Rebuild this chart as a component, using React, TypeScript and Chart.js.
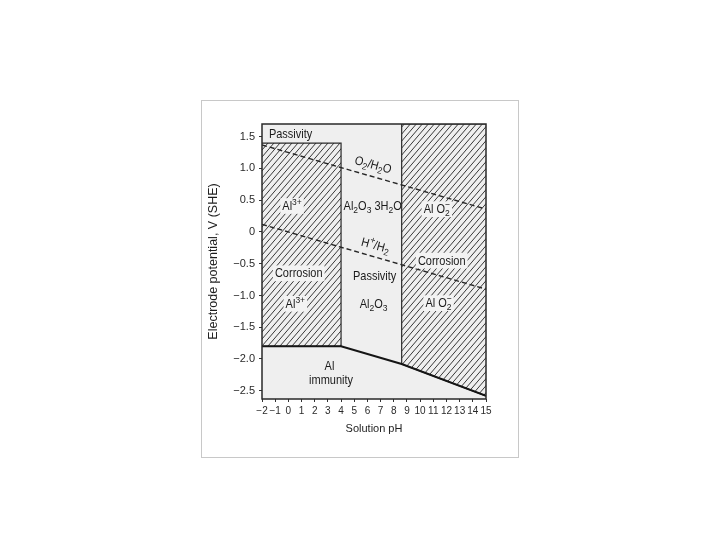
import React, { useEffect, useRef } from "react";
import { Chart, registerables } from "chart.js";

Chart.register(...registerables);

// ---- axes ----
const phTicks = [-2, -1, 0, 1, 2, 3, 4, 5, 6, 7, 8, 9, 10, 11, 12, 13, 14, 15];
const potentialTicks = [1.5, 1.0, 0.5, 0, -0.5, -1.0, -1.5, -2.0, -2.5];
const phMin = -2;
const phMax = 15;
const vMin = -2.63;
const vMax = 1.7;

// ---- regions (pH, potential) ----
const acidCorrosionPh = [-2, 4, 4, -2];
const acidCorrosionV = [1.4, 1.4, -1.8, -1.8];
const alkalineCorrosionPh = [15, 8.6, 8.6, 15];
const alkalineCorrosionV = [-2.58, -2.08, 1.7, 1.7];
const immunityPh = [-2, 4, 8.6, 15];
const immunityV = [-1.8, -1.8, -2.08, -2.58];

// ---- water stability lines ----
const oxygenPh = [-2, 15];
const oxygenV = [1.37, 0.36];
const hydrogenPh = [-2, 15];
const hydrogenV = [0.12, -0.9];

// ---- region labels ----
const labelTexts = [
  "Passivity",
  "O_2/H_2O",
  "Al^{3+}",
  "Al_2O_3 3H_2O",
  "Al O_2^\u2212",
  "H^+/H_2",
  "Corrosion",
  "Corrosion",
  "Passivity",
  "Al^{3+}",
  "Al_2O_3",
  "Al O_2^\u2212",
  "Al",
  "immunity",
];
const labelPh = [0.17, 6.43, 0.28, 6.4, 11.27, 6.6, 0.79, 11.64, 6.55, 0.53, 6.47, 11.4, 3.12, 3.24];
const labelV = [1.54, 1.05, 0.4, 0.4, 0.35, -0.22, -0.66, -0.46, -0.7, -1.14, -1.14, -1.13, -2.12, -2.34];
const labelAngle = [0, 15, 0, 0, 0, 15, 0, 0, 0, 0, 0, 0, 0, 0];
const labelOnHatch = [false, false, true, false, true, false, true, true, false, true, false, true, false, false];

const FONT = "'Liberation Sans', Arial, Helvetica, sans-serif";
const PLOT_BG = "#efefef";

function pts(xs: number[], ys: number[]) {
  return xs.map((x, i) => ({ x, y: ys[i] }));
}

function makeHatch(ctx: CanvasRenderingContext2D): CanvasPattern | string {
  const w = 6;
  const h = 7;
  const c = document.createElement("canvas");
  c.width = w;
  c.height = h;
  const g = c.getContext("2d");
  if (!g) return "#999";
  g.fillStyle = PLOT_BG;
  g.fillRect(0, 0, w, h);
  g.strokeStyle = "#383838";
  g.lineWidth = 1;
  g.beginPath();
  const ext = 1;
  for (const off of [-w, 0, w]) {
    // line through (off, h) and (off + w, 0), extended a little
    const sx = off - ext;
    const sy = h + (ext * h) / w;
    const ex = off + w + ext;
    const ey = -(ext * h) / w;
    g.moveTo(sx, sy);
    g.lineTo(ex, ey);
  }
  g.stroke();
  return ctx.createPattern(c, "repeat") || "#999";
}

type Seg = { t: string; k: "base" | "sub" | "sup" };

function parseRich(s: string): Seg[] {
  const segs: Seg[] = [];
  let i = 0;
  while (i < s.length) {
    const ch = s[i];
    if (ch === "_" || ch === "^") {
      let t: string;
      if (s[i + 1] === "{") {
        const j = s.indexOf("}", i);
        t = s.slice(i + 2, j);
        i = j + 1;
      } else {
        t = s[i + 1];
        i += 2;
      }
      segs.push({ t, k: ch === "_" ? "sub" : "sup" });
    } else {
      let j = i;
      while (j < s.length && s[j] !== "_" && s[j] !== "^") j++;
      segs.push({ t: s.slice(i, j), k: "base" });
      i = j;
    }
  }
  return segs;
}

const labelsPlugin = {
  id: "regionLabels",
  beforeDraw(chart: any) {
    const { ctx, chartArea: a } = chart;
    ctx.save();
    ctx.fillStyle = PLOT_BG;
    ctx.fillRect(a.left, a.top, a.right - a.left, a.bottom - a.top);
    ctx.restore();
  },
  afterDatasetsDraw(chart: any) {
    const { ctx } = chart;
    const xs = chart.scales.x;
    const ys = chart.scales.y;
    const baseFont = `11px ${FONT}`;
    const smallFont = `8.5px ${FONT}`;
    labelTexts.forEach((txt, idx) => {
      const segs = parseRich(txt);
      const placed: { seg: Seg; x: number; w: number }[] = [];
      let cx = 0;
      let prev: { seg: Seg; x: number; w: number } | null = null;
      for (const seg of segs) {
        ctx.font = seg.k === "base" ? baseFont : smallFont;
        const w = ctx.measureText(seg.t).width;
        if (seg.k === "sup" && prev && prev.seg.k === "sub") {
          const item = { seg, x: prev.x, w };
          placed.push(item);
          cx = prev.x + Math.max(prev.w, w);
          prev = item;
        } else {
          const item = { seg, x: cx, w };
          placed.push(item);
          cx += w;
          prev = item;
        }
      }
      const total = cx;
      const px = xs.getPixelForValue(labelPh[idx]);
      const py = ys.getPixelForValue(labelV[idx]);
      ctx.save();
      ctx.translate(px, py);
      ctx.rotate((labelAngle[idx] * Math.PI) / 180);
      ctx.scale(1, 1.12);
      if (labelOnHatch[idx]) {
        ctx.fillStyle = "#f3f3f3";
        ctx.fillRect(-total / 2 - 2, -7.5, total + 4, 14);
      }
      ctx.fillStyle = "#1a1a1a";
      ctx.textBaseline = "middle";
      ctx.textAlign = "left";
      for (const p of placed) {
        ctx.font = p.seg.k === "base" ? baseFont : smallFont;
        const dy = p.seg.k === "sub" ? 3.5 : p.seg.k === "sup" ? -4 : 0;
        ctx.fillText(p.seg.t, -total / 2 + p.x, dy);
      }
      ctx.restore();
    });
  },
  afterDraw(chart: any) {
    const { ctx, chartArea: a } = chart;
    ctx.save();
    ctx.strokeStyle = "#2a2a2a";
    ctx.lineWidth = 1.5;
    ctx.strokeRect(a.left, a.top, a.right - a.left, a.bottom - a.top);
    ctx.restore();
  },
};

function fmtPh(v: number) {
  return v < 0 ? "\u2212" + Math.abs(v) : String(v);
}
function fmtV(v: number) {
  if (v === 0) return "0";
  return (v < 0 ? "\u2212" : "") + Math.abs(v).toFixed(1);
}

export default function App() {
  const ref = useRef<HTMLCanvasElement>(null);
  useEffect(() => {
    const canvas = ref.current;
    if (!canvas) return;
    const ctx = canvas.getContext("2d");
    if (!ctx) return;
    const hatch = makeHatch(ctx);
    const common = { pointRadius: 0, pointHoverRadius: 0, tension: 0 };
    const chart = new Chart(canvas, {
      type: "line",
      data: {
        datasets: [
          {
            ...common,
            data: pts(immunityPh, immunityV),
            borderColor: "#151515",
            borderWidth: 2,
            fill: false,
            order: 1,
          },
          {
            ...common,
            data: pts(oxygenPh, oxygenV),
            borderColor: "#262626",
            borderWidth: 1.4,
            borderDash: [5, 3],
            fill: false,
            order: 2,
          },
          {
            ...common,
            data: pts(hydrogenPh, hydrogenV),
            borderColor: "#262626",
            borderWidth: 1.4,
            borderDash: [5, 3],
            fill: false,
            order: 3,
          },
          {
            ...common,
            data: pts(acidCorrosionPh, acidCorrosionV),
            borderColor: "#2a2a2a",
            borderWidth: 1.2,
            backgroundColor: hatch as any,
            fill: "shape" as any,
            order: 5,
          },
          {
            ...common,
            data: pts(alkalineCorrosionPh, alkalineCorrosionV),
            borderColor: "#2a2a2a",
            borderWidth: 1.2,
            backgroundColor: hatch as any,
            fill: "shape" as any,
            order: 6,
          },
        ],
      },
      options: {
        responsive: false,
        animation: false,
        devicePixelRatio: 1,
        layout: { padding: { left: 0, top: 23, right: 32, bottom: 0 } },
        plugins: {
          legend: { display: false },
          tooltip: { enabled: false },
        },
        events: [],
        scales: {
          x: {
            type: "linear",
            min: phMin,
            max: phMax,
            afterBuildTicks: (s: any) => {
              s.ticks = phTicks.map((v) => ({ value: v }));
            },
            afterFit: (s: any) => {
              s.height = 58;
            },
            border: { display: false },
            grid: { drawOnChartArea: false, drawTicks: true, tickLength: 3, color: "#333" },
            ticks: {
              autoSkip: false,
              maxRotation: 0,
              minRotation: 0,
              padding: 3,
              color: "#2a2a2a",
              font: { family: FONT, size: 10 },
              callback: (v: any) => fmtPh(Number(v)),
            },
            title: {
              display: true,
              text: "Solution pH",
              color: "#1e1e1e",
              font: { family: FONT, size: 11 },
              padding: { top: 0, bottom: 21 },
            },
          },
          y: {
            type: "linear",
            min: vMin,
            max: vMax,
            afterBuildTicks: (s: any) => {
              s.ticks = potentialTicks.map((v) => ({ value: v }));
            },
            afterFit: (s: any) => {
              s.width = 60;
            },
            border: { display: false },
            grid: { drawOnChartArea: false, drawTicks: true, tickLength: 3, color: "#333" },
            ticks: {
              padding: 4,
              color: "#2a2a2a",
              font: { family: FONT, size: 11 },
              callback: (v: any) => fmtV(Number(v)),
            },
            title: {
              display: true,
              text: "Electrode potential, V (SHE)",
              color: "#1e1e1e",
              font: { family: FONT, size: 12.5 },
              padding: { top: 4, bottom: 0 },
            },
          },
        },
      } as any,
      plugins: [labelsPlugin],
    });
    return () => chart.destroy();
  }, []);

  return (
    <div
      style={{
        position: "absolute",
        left: 201,
        top: 100,
        width: 316,
        height: 356,
        border: "1px solid #c8c8c8",
        background: "#ffffff",
      }}
    >
      <canvas ref={ref} width={316} height={356} style={{ display: "block", width: 316, height: 356 }} />
    </div>
  );
}
